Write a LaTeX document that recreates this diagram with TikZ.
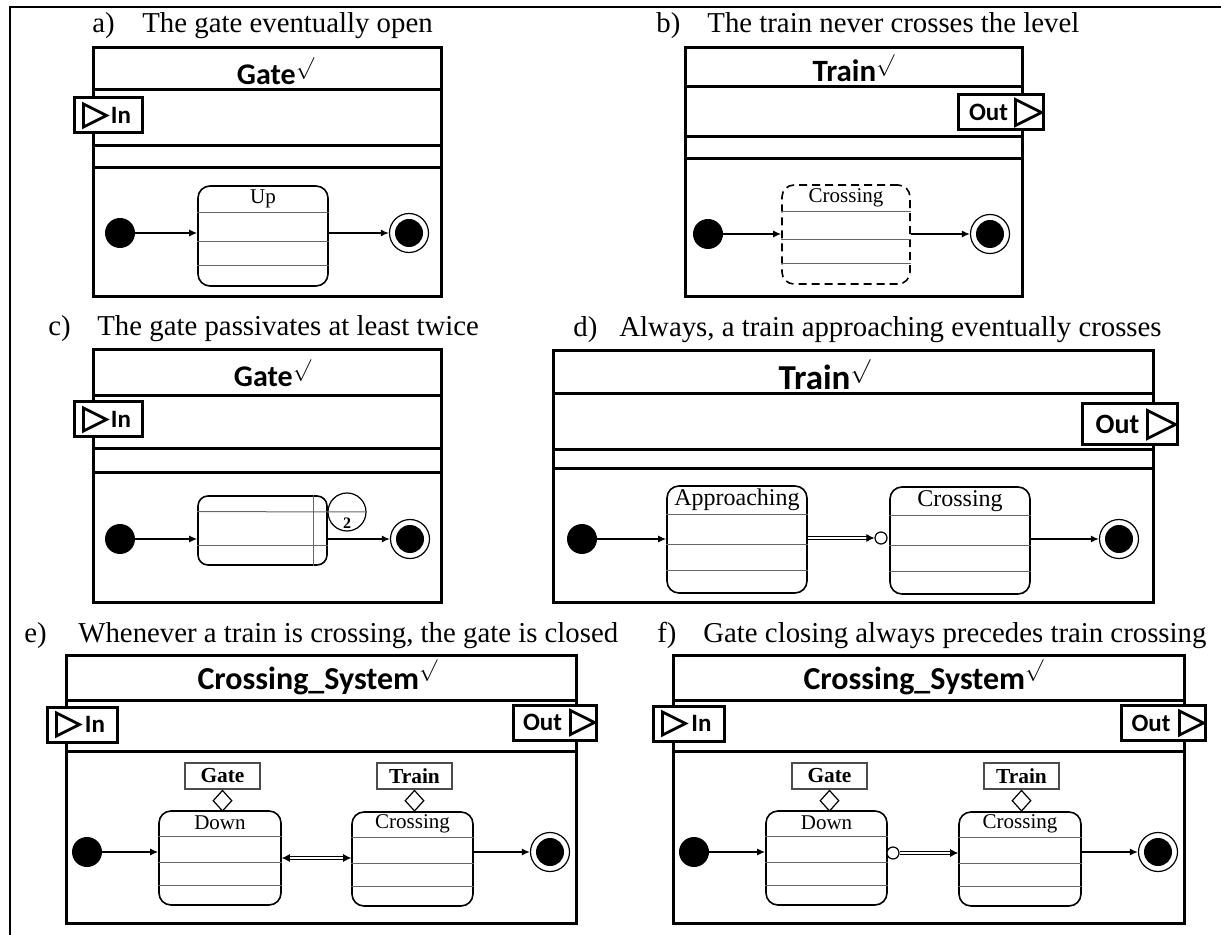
\documentclass[tikz,border=0pt]{standalone}
\usepackage{fontspec}
\setmainfont{Liberation Serif}
\newfontfamily\calibri{Carlito}
\usetikzlibrary{positioning,shapes.geometric,arrows.meta,calc}
\def\px{0.5pt}
\tikzstyle{classbox}=[line width=1.5pt]
\tikzstyle{state}=[draw,rectangle,rounded corners=6pt,line width=0.8pt,inner sep=0pt]
\tikzstyle{compart}=[line width=0.5pt,black!60]
\tikzstyle{stlabel}=[font=\fontsize{10.5}{12}\selectfont,inner sep=0pt]
\tikzstyle{inistate}=[circle,fill=black,minimum size=15pt,inner sep=0pt]
\tikzstyle{finout}=[circle,draw,line width=0.6pt,minimum size=19.5pt,inner sep=0pt]
\tikzstyle{finin}=[circle,fill=black,minimum size=14pt,inner sep=0pt]
\tikzstyle{trans}=[-{Latex[length=4pt,width=3.5pt]},line width=0.7pt]
\tikzstyle{dtrans}=[double,double distance=1.2pt,line width=0.5pt]
\tikzstyle{hist}=[circle,draw,fill=white,line width=0.6pt,minimum size=6pt,inner sep=0pt]
\tikzstyle{port}=[draw,fill=white,line width=1.5pt,inner xsep=0pt,minimum height=17.5pt,
  font=\calibri\bfseries\fontsize{12.5}{13}\selectfont]
\tikzstyle{porttri}=[line width=1.4pt]
\tikzstyle{ctitle}=[font=\calibri\bfseries\fontsize{15}{16}\selectfont,inner sep=0pt,anchor=base]
\tikzstyle{capt}=[font=\fontsize{14.4}{16}\selectfont,inner sep=0pt,anchor=base west]
\tikzstyle{partlbl}=[draw=black!70,line width=0.6pt,minimum width=37.5pt,minimum height=13pt,
  inner sep=0pt,font=\bfseries\fontsize{10.7}{12}\selectfont]
\tikzstyle{partdia}=[diamond,draw,line width=0.6pt,inner sep=0pt,minimum width=9.5pt,minimum height=10.5pt]
% state: name, label, x, y, width, height (px), extra style
\newcommand{\newState}[7]{%
  \node[state,minimum width=#5*\px,minimum height=#6*\px,#7] (#1) at (#3,#4) {};
  \foreach \f in {0.27,0.55,0.79}
    \draw[compart] ($(#1.north west)!\f!(#1.south west)$) -- ($(#1.north east)!\f!(#1.south east)$);
  \node[stlabel] (#1L) at ($(#1.north)!0.135!(#1.south)$) {#2};}
% ports: name, x, y, style, half height of the triangle
\newcommand{\inPort}[5]{%
  \node[port,#4] (#1) at (#2,#3) {\hspace*{13pt}In};
  \draw[porttri] ([xshift=5.5pt,yshift=#5pt]#1.west) -- ++(2*#5pt,-#5pt) -- ++(-2*#5pt,-#5pt) -- cycle;}
\newcommand{\outPort}[5]{%
  \node[port,#4] (#1) at (#2,#3) {Out\hspace*{12pt}};
  \draw[porttri] ([xshift=-1.5pt]#1.east) -- ++(-2*#5pt,#5pt) -- ++(0pt,-2*#5pt) -- cycle;}

\begin{document}
\begin{tikzpicture}[x=\px,y=-\px]
\useasboundingbox (0,0) rectangle (1221,935);
\draw[line width=1.2pt] (10,935) -- (10,7) -- (1221,7);

% a) gate eventually open
\node[capt] (capA) at (92,33) {a)};
\node[capt] (txtA) at (142,33) {The gate eventually open};
\draw[classbox] (93,48) rectangle (441,297);
\draw[classbox] (93,90) -- (441,90) (93,146) -- (441,146) (93,168) -- (441,168);
\node[ctitle] (titA) at (276,85) {Gate$^{\surd}$};
\inPort{inA}{108}{115.5}{minimum width=34pt}{5.75}
\newState{upA}{Up}{263}{236}{130}{100}{}
\node[inistate] (iniA) at (120,233) {};
\node[finout] (finA) at (409,233) {};
\node[finin] (finAi) at (finA) {};
\draw[trans] (iniA) -- (iniA -| upA.west);
\draw[trans] (upA.east |- finA) -- (finA);

% b) train never crosses
\node[capt] (capB) at (656,33) {b)};
\node[capt] (txtB) at (707,33) {The train never crosses the level};
\draw[classbox] (685,48) rectangle (1022,297);
\draw[classbox] (685,87) -- (1022,87) (685,137) -- (1022,137) (685,159) -- (1022,159);
\node[ctitle,font=\calibri\bfseries\fontsize{15.5}{16}\selectfont] (titB) at (854,82) {Train$^{\surd}$};
\outPort{outB}{1000.5}{112.5}{minimum width=42.5pt}{6.5}
\newState{crB}{Crossing}{846}{234.5}{128}{99}{dash pattern=on 4pt off 2.5pt}
\node[inistate] (iniB) at (708,234) {};
\node[finout] (finB) at (990,234) {};
\node[finin] (finBi) at (finB) {};
\draw[trans] (iniB) -- (iniB -| crB.west);
\draw[trans] (crB.east |- finB) -- (finB);

% c) gate passivates twice
\node[capt] (capC) at (48,336) {c)};
\node[capt] (txtC) at (97,336) {The gate passivates at least twice};
\draw[classbox] (93,350) rectangle (441,602);
\draw[classbox] (93,396) -- (441,396) (93,449) -- (441,449) (93,473) -- (441,473);
\node[ctitle] (titC) at (273,387) {Gate$^{\surd}$};
\inPort{inC}{108}{419.5}{minimum width=34pt}{5.75}
\node[state,minimum width=129*\px,minimum height=69*\px,rounded corners=5pt] (pasC) at (262.5,530.5) {};
\node[circle,draw,line width=0.6pt,minimum size=19pt,inner sep=0pt] (cntC) at (347,512) {};
\draw[compart] ($(pasC.north west)!0.232!(pasC.south west)$) -- (cntC.east);
\draw[compart] ($(pasC.north west)!0.71!(pasC.south west)$) -- ($(pasC.north east)!0.71!(pasC.south east)$);
\draw[compart] ($(pasC.north west)!0.89!(pasC.north east)$) -- ($(pasC.south west)!0.89!(pasC.south east)$);
\node[font=\bfseries\fontsize{8}{9}\selectfont,inner sep=0pt] (twoC) at (347,523) {2};
\node[inistate] (iniC) at (120,539) {};
\node[finout] (finC) at (410,539) {};
\node[finin] (finCi) at (finC) {};
\draw[trans] (iniC) -- (iniC -| pasC.west);
\draw[trans] (pasC.east |- finC) -- (finC);

% d) approaching leads to crossing
\node[capt] (capD) at (573,337) {d)};
\node[capt] (txtD) at (619,337) {Always, a train approaching eventually crosses};
\draw[classbox] (553,351) rectangle (1153,602);
\draw[classbox] (553,394) -- (1153,394) (553,450) -- (1153,450) (553,469) -- (1153,469);
\node[ctitle,font=\calibri\bfseries\fontsize{17.5}{18}\selectfont] (titD) at (825,390) {Train$^{\surd}$};
\outPort{outD}{1129.5}{424.5}{minimum width=47.5pt,minimum height=20.5pt,
  font=\calibri\bfseries\fontsize{14}{15}\selectfont}{7}
\begin{scope}[stlabel/.append style={font=\fontsize{12}{13}\selectfont}]
\newState{apprD}{Approaching}{737}{539.5}{140}{107}{}
\newState{crD}{Crossing}{960}{540.5}{140}{107}{}
\end{scope}
\node[inistate] (iniD) at (582,539) {};
\node[finout] (finD) at (1119,539) {};
\node[finin] (finDi) at (finD) {};
\node[hist] (cD) at (881,538) {};
\draw[trans] (iniD) -- (iniD -| apprD.west);
\draw[dtrans,-{Latex[length=4pt,width=4pt]}] (apprD.east |- cD) -- (cD);
\draw[trans] (crD.east |- finD) -- (finD);

% e) crossing implies gate down
\node[capt] (capE) at (24,642) {e)};
\node[capt] (txtE) at (78,642) {Whenever a train is crossing, the gate is closed};
\draw[classbox] (66,655) rectangle (576,923);
\draw[classbox] (66,700) -- (576,700) (66,751) -- (576,751);
\node[ctitle,font=\calibri\bfseries\fontsize{16}{17}\selectfont] (titE) at (318,689) {Crossing\_System$^{\surd}$};
\inPort{inE}{82}{724.5}{minimum width=35pt}{5.75}
\outPort{outE}{554.5}{722.5}{minimum width=41.5pt}{6}
\node[partlbl] (gateE) at (222.5,776) {Gate};
\node[partdia,below=0pt of gateE] (gdE) {};
\node[partlbl] (trainE) at (414.5,776) {Train};
\node[partdia,below=0pt of trainE] (tdE) {};
\newState{dnE}{Down}{220}{858}{122}{94}{}
\newState{crE}{Crossing}{412.5}{859}{121}{94}{}
\node[inistate] (iniE) at (87,852) {};
\node[finout] (finE) at (550,852) {};
\node[finin] (finEi) at (finE) {};
\draw[trans] (iniE) -- (iniE -| dnE.west);
\draw[dtrans,{Latex[length=4pt,width=4pt]}-{Latex[length=4pt,width=4pt]}] (dnE.east) -- (dnE.east -| crE.west);
\draw[trans] (crE.east |- finE) -- (finE);

% f) gate closing precedes crossing
\node[capt] (capF) at (657,642) {f)};
\node[capt] (txtF) at (703,642) {Gate closing always precedes train crossing};
\draw[classbox] (673,655) rectangle (1184,923);
\draw[classbox] (673,700) -- (1184,700) (673,751) -- (1184,751);
\node[ctitle,font=\calibri\bfseries\fontsize{16}{17}\selectfont] (titF) at (924,689) {Crossing\_System$^{\surd}$};
\inPort{inF}{688.5}{723.5}{minimum width=35.5pt}{5.75}
\outPort{outF}{1163}{723}{minimum width=42pt}{6}
\node[partlbl] (gateF) at (829.5,776) {Gate};
\node[partdia,below=0pt of gateF] (gdF) {};
\node[partlbl] (trainF) at (1021.5,776) {Train};
\node[partdia,below=0pt of trainF] (tdF) {};
\newState{dnF}{Down}{826.5}{858}{121}{94}{}
\newState{crF}{Crossing}{1020}{859}{122}{94}{}
\node[inistate] (iniF) at (694,852) {};
\node[finout] (finF) at (1158,852) {};
\node[finin] (finFi) at (finF) {};
\node[hist] (cF) at (893,853) {};
\draw[trans] (iniF) -- (iniF -| dnF.west);
\draw[dtrans,-{Latex[length=4pt,width=4pt]}] (cF) -- (cF -| crF.west);
\draw[trans] (crF.east |- finF) -- (finF);
\end{tikzpicture}
\end{document}
